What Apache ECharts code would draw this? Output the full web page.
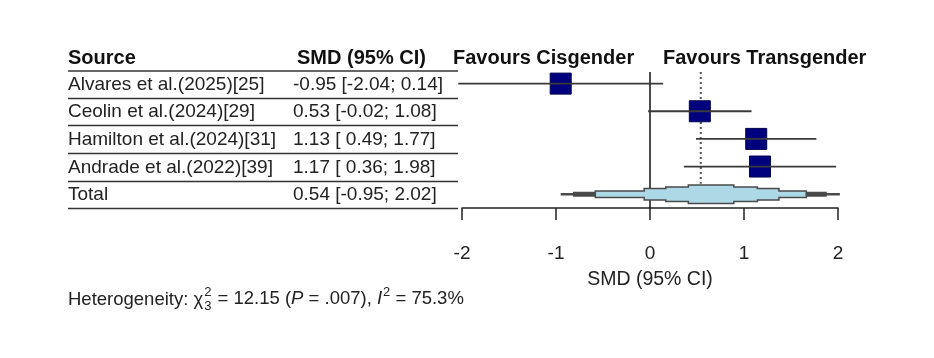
<!DOCTYPE html>
<html>
<head>
<meta charset="utf-8">
<script src="https://cdn.jsdelivr.net/npm/echarts@6/dist/echarts.min.js"></script>
<style>
html,body{margin:0;padding:0;background:#fff;}
#chart{width:934px;height:358px;}
</style>
</head>
<body>
<div id="chart"></div>
<script>
// ---- data ----
const sources = ['Alvares et al.(2025)[25]', 'Ceolin et al.(2024)[29]', 'Hamilton et al.(2024)[31]', 'Andrade et al.(2022)[39]'];
const smd = [-0.95, 0.53, 1.13, 1.17];
const ciLow = [-2.04, -0.02, 0.49, 0.36];
const ciHigh = [0.14, 1.08, 1.77, 1.98];
const totalLabel = 'Total';
const totalSmd = 0.54;
const totalLow = -0.95;
const totalHigh = 2.02;
// stepped summary shape (outer to inner), SMD units
const stepLow = [-0.95, -0.82, -0.59, -0.07, 0.16, 0.40];
const stepHigh = [2.02, 1.88, 1.67, 1.38, 1.15, 0.90];
const xTicks = [-2, -1, 0, 1, 2];
const headers = ['Source', 'SMD (95% CI)'];
const favours = ['Favours Cisgender', 'Favours Transgender'];
const axisTitle = 'SMD (95% CI)';
const hetero = {chi: '12.15', df: '3', p: '.007', i2: '75.3%'};

// ---- styles / layout ----
const stepHeights = [2.5, 5, 8, 13, 16, 20];
const FONT = '"Liberation Sans", Arial, sans-serif';
const gridTop = 72, gridBottomY = 208, gridLeft = 462, gridRight = 838;
const yMin = 0.58, yMax = 5.5;
const rowPx = (gridBottomY - gridTop) / (yMax - yMin);
const rowY = r => gridTop + (r - yMin) * rowPx;
const TEXT = '#222';
const LINE = '#333';

function fmt(v) { return v.toFixed(2); }
function ciStr(e, l, h) {
  const lo = l < 0 ? fmt(l) : ' ' + fmt(l);
  return fmt(e) + ' [' + lo + '; ' + fmt(h) + ']';
}

const chart = echarts.init(document.getElementById('chart'), null, {renderer: 'canvas'});

const rows = sources.map((s, i) => i + 1);
const totalRow = sources.length + 1;

const graphics = [];
// headers
graphics.push({type: 'text', left: 68, top: 60 - 12, style: {text: headers[0], font: 'bold 20px ' + FONT, fill: '#111'}});
graphics.push({type: 'text', left: 297, top: 60 - 12, style: {text: headers[1], font: 'bold 20px ' + FONT, fill: '#111'}});
graphics.push({type: 'text', left: 453, top: 60 - 12, style: {text: favours[0], font: 'bold 20px ' + FONT, fill: '#111'}});
graphics.push({type: 'text', left: 663, top: 60 - 12, style: {text: favours[1], font: 'bold 20px ' + FONT, fill: '#111'}});
// header underline
graphics.push({type: 'line', shape: {x1: 68, y1: 71, x2: 458, y2: 71}, style: {stroke: LINE, lineWidth: 1.5}});
const allLabels = sources.concat([totalLabel]);
const allStr = sources.map((s, i) => ciStr(smd[i], ciLow[i], ciHigh[i])).concat([ciStr(totalSmd, totalLow, totalHigh)]);
allLabels.forEach((lab, i) => {
  const y = rowY(i + 1);
  graphics.push({type: 'text', x: 68, y: y + 1, style: {text: lab, font: '19px ' + FONT, fill: TEXT, verticalAlign: 'middle'}});
  graphics.push({type: 'text', x: 293, y: y + 1, style: {text: allStr[i], font: '19px ' + FONT, fill: TEXT, verticalAlign: 'middle'}});
  const ly = Math.round(y + 14) + 0.5;
  graphics.push({type: 'line', shape: {x1: 68, y1: ly, x2: 458, y2: ly}, style: {stroke: LINE, lineWidth: 1.5}});
});

// heterogeneity line built from measured pieces
(function () {
  const ctx = document.createElement('canvas').getContext('2d');
  const base = '18.5px ' + FONT, ital = 'italic 18.5px ' + FONT, small = '13px ' + FONT;
  const y = 299;
  let x = 68;
  const put = (t, font, dy) => {
    graphics.push({type: 'text', x: x, y: y + dy, style: {text: t, font: font, fill: TEXT, verticalAlign: 'middle'}});
    ctx.font = font; return ctx.measureText(t).width;
  };
  x += put('Heterogeneity: \u03c7', base, 1);
  x += 1;
  const w1 = put(hetero.df, small, 7);
  put('2', small, -7);
  x += w1 + 1;
  x += put(' = ' + hetero.chi + ' (', base, 0);
  x += put('P', ital, 0);
  x += put(' = ' + hetero.p + '), ', base, 0);
  x += put('I', ital, 0);
  x += 1;
  x += put('2', small, -7);
  x += put(' = ' + hetero.i2, base, 0);
})();

const option = {
  animation: false,
  backgroundColor: '#fff',
  grid: {left: gridLeft, top: gridTop, width: gridRight - gridLeft, height: gridBottomY - gridTop},
  xAxis: {
    type: 'value', min: xTicks[0], max: xTicks[xTicks.length - 1], interval: 1,
    axisLine: {show: true, onZero: false, lineStyle: {color: '#222', width: 1.5}},
    axisTick: {show: true, length: 12, lineStyle: {color: '#222', width: 1.5}},
    axisLabel: {color: TEXT, fontSize: 19, fontFamily: FONT, margin: 36},
    splitLine: {show: false},
    name: axisTitle, nameLocation: 'middle', nameGap: 62,
    nameTextStyle: {color: TEXT, fontSize: 19.5, fontFamily: FONT}
  },
  yAxis: {
    type: 'value', min: yMin, max: yMax, inverse: true, show: false
  },
  series: [
    // stepped summary: dark outline layer
    {
      type: 'custom', z: 3,
      data: stepLow.map((l, i) => [l, stepHigh[i], i]),
      renderItem: (params, api) => {
        const i = api.value(2);
        const p1 = api.coord([api.value(0), totalRow]);
        const p2 = api.coord([api.value(1), totalRow]);
        const h = stepHeights[i];
        return {type: 'rect', shape: {x: p1[0], y: p1[1] - h / 2, width: p2[0] - p1[0], height: h},
          style: {fill: '#4a4a4a'}};
      }
    },
    // stepped summary: light blue fill
    {
      type: 'custom', z: 4,
      data: stepLow.map((l, i) => [l, stepHigh[i], i]).slice(2),
      renderItem: (params, api) => {
        const i = api.value(2);
        const p1 = api.coord([api.value(0), totalRow]);
        const p2 = api.coord([api.value(1), totalRow]);
        const h = stepHeights[i] - 3;
        return {type: 'rect', shape: {x: p1[0] + 1.5, y: p1[1] - h / 2, width: p2[0] - p1[0] - 3, height: h},
          style: {fill: '#ADD8E6'}};
      }
    },
    // zero line
    {
      type: 'line', z: 2, symbol: 'none', silent: true,
      data: [[0, yMin], [0, yMax]],
      lineStyle: {color: '#111', width: 1.5}
    },
    // pooled dotted line
    {
      type: 'line', z: 2, symbol: 'none', silent: true,
      data: [[totalSmd, yMin], [totalSmd, totalRow - 0.38]],
      lineStyle: {color: '#555', width: 2, type: [2, 3]}
    },
    // study squares
    {
      type: 'scatter', z: 5, symbol: 'rect', symbolSize: 21,
      data: smd.map((v, i) => [v, rows[i]]),
      itemStyle: {color: '#00007f', borderColor: '#000050', borderWidth: 1, opacity: 1}
    },
    // CI lines
    {
      type: 'custom', z: 6,
      data: ciLow.map((l, i) => [l, ciHigh[i], rows[i]]),
      renderItem: (params, api) => {
        const p1 = api.coord([api.value(0), api.value(2)]);
        const p2 = api.coord([api.value(1), api.value(2)]);
        return {type: 'line', shape: {x1: p1[0], y1: p1[1], x2: p2[0], y2: p2[1]},
          style: {stroke: '#3a3a3a', lineWidth: 1.8}};
      }
    }
  ],
  graphic: graphics
};
chart.setOption(option);
</script>
</body>
</html>
